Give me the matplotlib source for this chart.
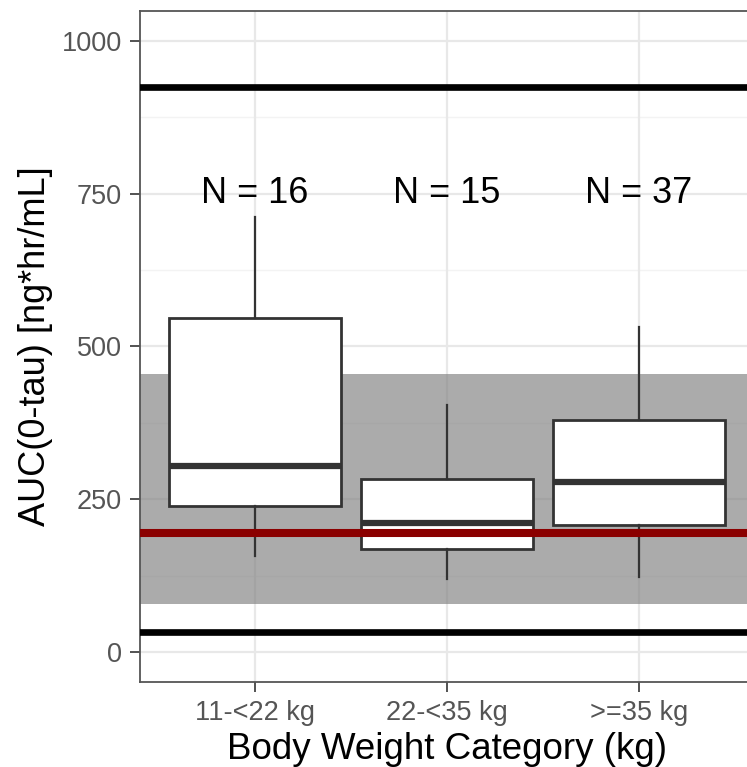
import matplotlib
matplotlib.use("Agg")
import matplotlib.pyplot as plt

plt.rcParams['font.family'] = ['Liberation Sans', 'DejaVu Sans']

# exposure summary by weight group
categories = ['11-<22 kg', '22-<35 kg', '>=35 kg']
n_subjects = [16, 15, 37]
q1 = [239, 168, 208]
median = [305, 212, 278]
q3 = [547, 283, 379]
whisker_lo = [158, 119, 123]
whisker_hi = [712, 405, 532]

# reference range (shaded), reference mean (red) and bounds (black)
ref_band = [79, 455]
ref_mean = 195
bounds = [33, 925]

yticks = [0, 250, 500, 750, 1000]
yminor = [125, 375, 625, 875]

fig = plt.figure(figsize=(7.47, 7.67), dpi=100)
ax = fig.add_axes([140 / 747, 85 / 767, 614 / 747, 671 / 767])

positions = list(range(1, len(categories) + 1))
ax.set_xlim(0.4, 3.6)
ax.set_ylim(-49, 1049)

# ggplot-like grid
for y in yminor:
    ax.axhline(y, color='#f3f3f3', lw=1.0, zorder=0)
for y in yticks:
    ax.axhline(y, color='#e8e8e8', lw=1.6, zorder=0)
for x in positions:
    ax.axvline(x, color='#e8e8e8', lw=1.6, zorder=0)

ax.axhspan(ref_band[0], ref_band[1], color='#7f7f7f', alpha=0.65, lw=0, zorder=1)

stats = []
for i in range(len(categories)):
    stats.append(dict(q1=q1[i], med=median[i], q3=q3[i],
                      whislo=whisker_lo[i], whishi=whisker_hi[i], fliers=[]))

ax.bxp(stats, positions=positions, widths=0.9, patch_artist=True,
       showcaps=False, showfliers=False,
       boxprops=dict(facecolor='white', edgecolor='#333333', linewidth=2.0),
       medianprops=dict(color='#333333', linewidth=4.5, solid_capstyle='butt'),
       whiskerprops=dict(color='#333333', linewidth=1.6),
       zorder=2)

ax.axhline(ref_mean, color='#8b0000', lw=5.8, zorder=3)
for b in bounds:
    ax.axhline(b, color='black', lw=4.8, zorder=3)

for x, n in zip(positions, n_subjects):
    ax.text(x, 750, f'N = {n}', ha='center', va='center', fontsize=26, color='black', zorder=4)

ax.set_yticks(yticks)
ax.set_xticks(positions)
ax.set_xticklabels(categories)
ax.tick_params(axis='both', length=7, width=1.3, color='#444444', labelcolor='#555555',
               labelsize=19.5, pad=6)

for s in ax.spines.values():
    s.set_color('#555555')
    s.set_linewidth(1.3)

ax.set_xlabel('Body Weight Category (kg)', fontsize=26.5, labelpad=4)
ax.set_ylabel('AUC(0-tau) [ng*hr/mL]', fontsize=26, labelpad=6)

fig.savefig('out.png', dpi=100)
